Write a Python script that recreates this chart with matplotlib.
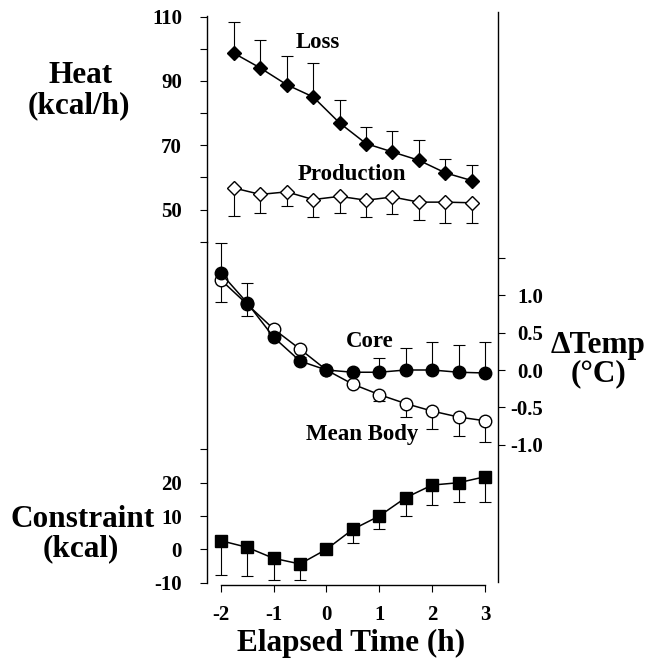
import matplotlib
matplotlib.use('Agg')
import matplotlib.pyplot as plt

plt.rcParams['font.family'] = ['Liberation Serif', 'DejaVu Serif']
plt.rcParams['font.weight'] = 'bold'

# heat (kcal/h), plotted at half hour mid points
heat_time = [-1.75, -1.25, -0.75, -0.25, 0.25, 0.75, 1.25, 1.75, 2.25, 2.75]
heat_loss = [98.6, 94.0, 88.8, 85.0, 76.9, 70.5, 67.9, 65.3, 61.4, 59.0]
heat_loss_err = [9.8, 8.6, 8.8, 10.5, 7.0, 5.1, 6.4, 6.3, 4.3, 4.9]
heat_prod = [56.7, 54.7, 55.5, 53.1, 54.1, 52.9, 53.9, 52.3, 52.3, 52.1]
heat_prod_err = [8.6, 5.7, 4.5, 5.4, 5.1, 5.2, 5.4, 5.7, 6.6, 6.4]

# temperature change (C) and constraint (kcal) every half hour
time = [-2, -1.5, -1, -0.5, 0, 0.5, 1, 1.5, 2, 2.5, 3]
core = [1.30, 0.90, 0.44, 0.12, 0.0, -0.03, -0.03, 0.0, 0.0, -0.03, -0.04]
core_err = [0.40, 0.26, 0.05, 0.05, 0.03, 0.03, 0.19, 0.30, 0.37, 0.36, 0.41]
mean_body = [1.21, 0.88, 0.55, 0.28, 0.0, -0.19, -0.33, -0.45, -0.55, -0.63, -0.68]
mean_body_err = [0.30, 0.16, 0.03, 0.03, 0.0, 0.03, 0.09, 0.18, 0.24, 0.26, 0.29]
constraint = [2.6, 0.6, -2.7, -4.4, 0.0, 6.0, 10.0, 15.5, 19.3, 20.0, 21.8]
constraint_err = [10.3, 8.6, 6.5, 4.8, 0.0, 4.0, 3.9, 5.5, 6.0, 5.7, 7.5]

W, H = 649, 660
fig = plt.figure(figsize=(W / 100, H / 100), dpi=100)


def box(x0, y0, x1, y1):
    # pixel box (from top left) -> figure fraction rect
    return [x0 / W, 1 - y1 / H, (x1 - x0) / W, (y1 - y0) / H]


def ftext(x, y, s, size, ha='center'):
    fig.text(x / W, 1 - y / H, s, fontsize=size, ha=ha, va='baseline', fontweight='bold')


XL, XR = 206.7, 498
xlim = (-2.265, 3.246)
zeros = [0] * 11

ax_heat = fig.add_axes(box(XL, 15.9, XR, 241.7))
ax_temp = fig.add_axes(box(XL, 11.7, XR, 582))
ax_con = fig.add_axes(box(XL, 241.7, XR, 582.6))

for ax in (ax_heat, ax_temp, ax_con):
    ax.patch.set_visible(False)
    ax.set_xlim(*xlim)
    for s in ax.spines.values():
        s.set_visible(False)
        s.set_linewidth(1.0)
    ax.tick_params(width=0.8, length=4.7, labelsize=15, direction='out')

# heat panel
ax_heat.set_ylim(40, 110.2)
ax_heat.spines['left'].set_visible(True)
ax_heat.set_xticks([])
ax_heat.set_yticks(range(40, 111, 10))
ax_heat.set_yticklabels(['' if v % 20 == 0 else str(v) for v in range(40, 111, 10)])
ax_heat.tick_params(axis='y', pad=13)
ax_heat.errorbar(heat_time, heat_loss, yerr=[[0] * 10, heat_loss_err], fmt='none',
                 ecolor='black', elinewidth=0.8, capsize=4, capthick=0.8, zorder=1)
ax_heat.errorbar(heat_time, heat_prod, yerr=[heat_prod_err, [0] * 10], fmt='none',
                 ecolor='black', elinewidth=0.8, capsize=4, capthick=0.8, zorder=1)
ax_heat.plot(heat_time, heat_loss, color='black', lw=1.1, marker='D', ms=7.5,
             mfc='black', mec='black', zorder=3)
ax_heat.plot(heat_time, heat_prod, color='black', lw=1.1, marker='D', ms=7.2,
             mfc='white', mec='black', mew=1.0, zorder=3)

# temperature panel (right axis)
ax_temp.set_ylim(-2.84, 4.80)
ax_temp.spines['right'].set_visible(True)
ax_temp.set_xticks([])
ax_temp.yaxis.tick_right()
temp_ticks = [-1.0, -0.5, 0.0, 0.5, 1.0, 1.5]
ax_temp.set_yticks(temp_ticks)
ax_temp.set_yticklabels(['' if v > 1.2 else f'{v:.1f}' for v in temp_ticks])
ax_temp.tick_params(axis='y', pad=28)
for lab in ax_temp.get_yticklabels():
    lab.set_ha('right')
ax_temp.errorbar(time, core, yerr=[zeros, core_err], fmt='none',
                 ecolor='black', elinewidth=0.8, capsize=4, capthick=0.8, zorder=1)
ax_temp.errorbar(time, mean_body, yerr=[mean_body_err, zeros], fmt='none',
                 ecolor='black', elinewidth=0.8, capsize=4, capthick=0.8, zorder=1)
ax_temp.plot(time, mean_body, color='black', lw=1.1, marker='o', ms=9,
             mfc='white', mec='black', mew=1.0, zorder=3)
ax_temp.plot(time, core, color='black', lw=1.1, marker='o', ms=9,
             mfc='black', mec='black', zorder=3)

# constraint panel
ax_con.set_ylim(-10, 92.4)
ax_con.spines['left'].set_visible(True)
ax_con.spines['bottom'].set_visible(True)
ax_con.spines['bottom'].set_bounds(-2, 3)
ax_con.spines['bottom'].set_position(('outward', 1.5))
ax_con.set_yticks([-10, 0, 10, 20, 30])
ax_con.set_yticklabels(['-10', '0', '10', '20', ''])
ax_con.tick_params(axis='y', pad=13)
ax_con.set_xticks([-2, -1, 0, 1, 2, 3])
ax_con.set_xticklabels(['-2', '-1', '0', '1', '2', '3'])
ax_con.tick_params(axis='x', pad=10)
ax_con.errorbar(time, constraint, yerr=[constraint_err, zeros], fmt='none',
                ecolor='black', elinewidth=0.8, capsize=4, capthick=0.8, zorder=1)
ax_con.plot(time, constraint, color='black', lw=1.1, marker='s', ms=8.5,
            mfc='black', mec='black', zorder=3)

# text labels
ftext(318, 48.3, 'Loss', 16.5)
ftext(351.7, 180, 'Production', 16.5)
ftext(370, 346.7, 'Core', 16.5)
ftext(362.5, 440, 'Mean Body', 16.5)
ftext(81, 83.3, 'Heat', 22.5)
ftext(79, 113.3, '(kcal/h)', 22.5)
ftext(82.5, 526.7, 'Constraint', 22.5)
ftext(80.7, 556.7, '(kcal)', 22.5)
ftext(598, 353.3, 'ΔTemp', 22.5)
ftext(598, 381.7, '(°C)', 22.5)
ftext(351, 650.7, 'Elapsed Time (h)', 22.5)

fig.savefig('out.png', dpi=100)
